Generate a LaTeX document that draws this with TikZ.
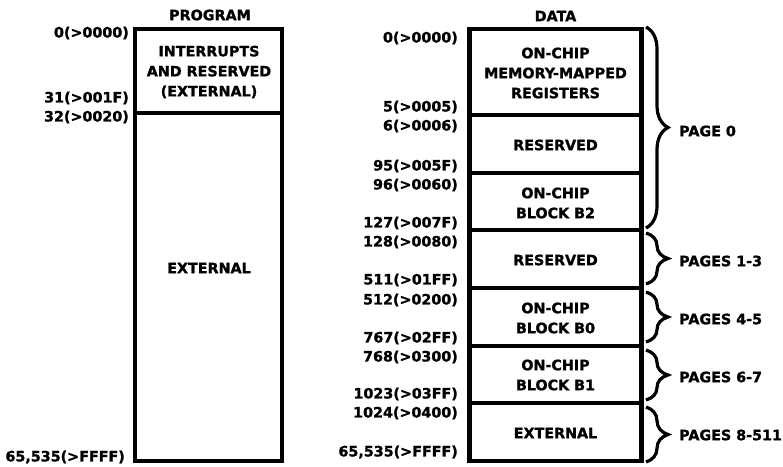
\documentclass[tikz,border=0pt]{standalone}
\usepackage{fontspec}
\setmainfont{DejaVu Sans}[BoldFeatures={FakeBold=1.3}]
\usetikzlibrary{decorations.pathreplacing}
\newcommand{\mapfont}{\fontsize{14.3}{20}\selectfont\bfseries}

\begin{document}
\begin{tikzpicture}[
        x=1pt, y=-1pt,
        mapline/.style={line width=4.2pt, line join=miter},
        divline/.style={line width=3.4pt},
        maptitle/.style={font=\mapfont, inner sep=0pt},
        region/.style={font=\mapfont, align=center, inner sep=0pt},
        addr/.style={font=\mapfont, anchor=east, inner sep=0pt},
        pagebrace/.style={decorate, decoration={brace, amplitude=22pt}, line width=3.2pt},
        pagelabel/.style={font=\mapfont, anchor=west, inner sep=0pt}
    ]
    \useasboundingbox (0,0) rectangle (783,466);
    \def\pl{135}  \def\pr{282}
    \def\dl{469.5}\def\dr{641.5}

    % === Program map ===
    \node[maptitle] (progtitle) at (210,15) {PROGRAM};
    \draw[mapline] (\pl,29) rectangle (\pr,461);
    \draw[divline] (\pl,113) -- (\pr,113);
    \node[region] (progint) at (209,72) {INTERRUPTS\\AND RESERVED\\(EXTERNAL)};
    \node[region] (progext) at (209,268) {EXTERNAL};
    % addresses
    \node[addr] (pa0) at (129,33) {0(>0000)};
    \node[addr] (pa1) at (129,98) {31(>001F)};
    \node[addr] (pa2) at (129,117) {32(>0020)};
    \node[addr] (pa3) at (125,457) {65,535(>FFFF)};

    % === Data map ===
    \node[maptitle] (datatitle) at (555.5,16) {DATA};
    \draw[mapline] (\dl,29) rectangle (\dr,461);
    \foreach \y in {115,173,230,288,346,403} { \draw[divline] (\dl,\y) -- (\dr,\y); }
    \node[region] (datammr) at (555.5,73) {ON-CHIP\\MEMORY-MAPPED\\REGISTERS};
    \node[region] (datares0) at (555.5,145) {RESERVED};
    \node[region] (datab2) at (555.5,203) {ON-CHIP\\BLOCK B2};
    \node[region] (datares1) at (555.5,260) {RESERVED};
    \node[region] (datab0) at (555.5,318) {ON-CHIP\\BLOCK B0};
    \node[region] (datab1) at (555.5,375) {ON-CHIP\\BLOCK B1};
    \node[region] (dataext) at (555.5,433) {EXTERNAL};
    % addresses
    \node[addr] (da0) at (458,38) {0(>0000)};
    \node[addr] (da1) at (458,107) {5(>0005)};
    \node[addr] (da2) at (458,126) {6(>0006)};
    \node[addr] (da3) at (458,166) {95(>005F)};
    \node[addr] (da4) at (458,185) {96(>0060)};
    \node[addr] (da5) at (458,223) {127(>007F)};
    \node[addr] (da6) at (458,242) {128(>0080)};
    \node[addr] (da7) at (458,280) {511(>01FF)};
    \node[addr] (da8) at (458,300) {512(>0200)};
    \node[addr] (da9) at (458,338) {767(>02FF)};
    \node[addr] (da10) at (458,357) {768(>0300)};
    \node[addr] (da11) at (458,394) {1023(>03FF)};
    \node[addr] (da12) at (458,413) {1024(>0400)};
    \node[addr] (da13) at (458,452) {65,535(>FFFF)};

    % === Page braces ===
    \draw[pagebrace] (646,27) -- (646,228);
    \node[pagelabel] (page0) at (679,131) {PAGE 0};
    \draw[pagebrace] (646,233) -- (646,284);
    \node[pagelabel] (page1) at (679,261) {PAGES 1-3};
    \draw[pagebrace] (646,292) -- (646,342);
    \node[pagelabel] (page4) at (679,319) {PAGES 4-5};
    \draw[pagebrace] (646,350) -- (646,400);
    \node[pagelabel] (page6) at (679,377) {PAGES 6-7};
    \draw[pagebrace] (646,407) -- (646,462);
    \node[pagelabel] (page8) at (679,435) {PAGES 8-511};

\end{tikzpicture}
\end{document}
